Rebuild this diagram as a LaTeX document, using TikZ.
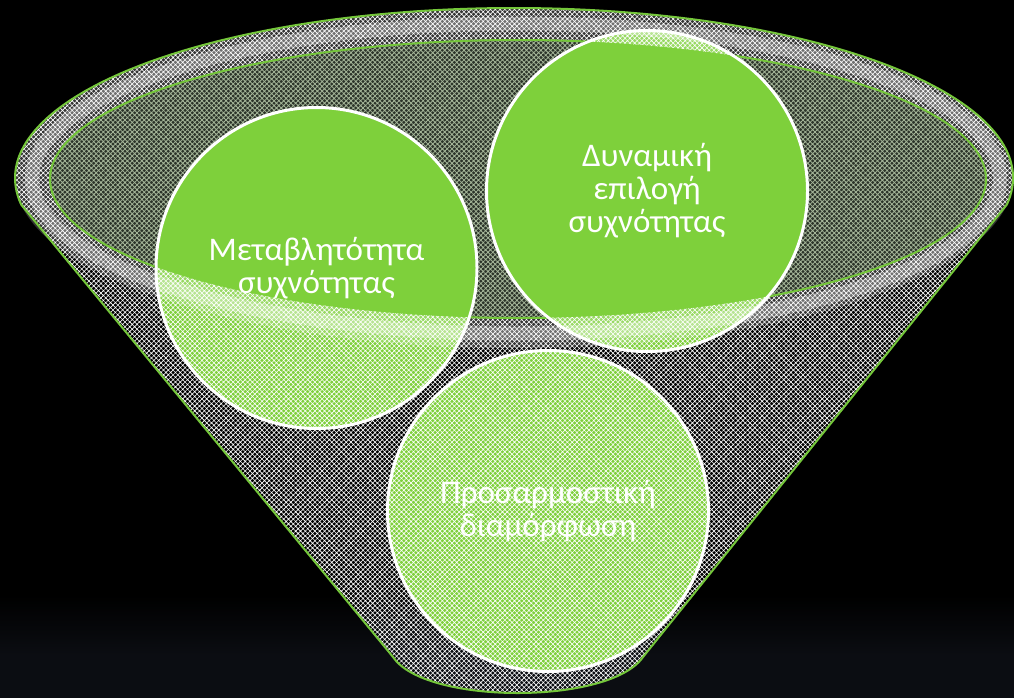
\documentclass[tikz,border=0pt]{standalone}
\usepackage{fontspec}
\setmainfont{Carlito}
\usetikzlibrary{patterns.meta,calc}

\definecolor{leaf}{HTML}{7ED03B}
\definecolor{edgegreen}{HTML}{74C63A}
\definecolor{innerbase}{HTML}{2B3329}
\definecolor{innermesh}{HTML}{A5B699}
\definecolor{floor}{HTML}{0B0D12}

\begin{document}
\begin{tikzpicture}[x=1pt,y=-1pt,
  bubble/.style={circle, minimum size=321pt, inner sep=0pt, fill=leaf,
    draw=white, line width=3pt},
  caption/.style={text=white, align=center, inner sep=0pt,
    font=\fontsize{33}{33}\selectfont},
  outline/.style={draw=edgegreen, line width=2pt},
  mesh/.style={pattern={Hatch[angle=45,distance=3.4pt,line width=0.6pt]}, pattern color=#1}]

\useasboundingbox (0,0) rectangle (1014,697);

% backdrop
\fill[black] (0,0) rectangle (1014,697);
\shade[top color=black, bottom color=floor] (0,595) rectangle (1014,655);
\fill[floor] (0,655) rectangle (1014,697.5);

% key points of the funnel
\coordinate (oc) at (514,178);
\coordinate (ic) at (518,179);
\coordinate (L) at ($(oc)+(189:499pt and 170pt)$);
\coordinate (R) at ($(oc)+(-9:499pt and 170pt)$);
\coordinate (BL) at (393,657);
\coordinate (BR) at (643,657);

% mouth of the funnel
\fill[innerbase] (ic) ellipse [x radius=468pt, y radius=139pt];
\fill[pattern={Hatch[angle=45,distance=3.4pt,line width=0.8pt]}, pattern color=innermesh]
  (ic) ellipse [x radius=468pt, y radius=139pt];

% the three bubbles
\node[bubble] (c1) at (316.5,268) {};
\node[bubble] (c2) at (647,191) {};
\node[bubble] (c3) at (548,511) {};
\node[caption] (t1) at (c1.center) {Μεταβλητότητα\\συχνότητας};
\node[caption] (t2) at (c2.center) {Δυναμική\\επιλογή\\συχνότητας};

% translucent body of the funnel, mouth left open
\fill[mesh=white, even odd rule]
  (L) -- (BL) .. controls (425,705) and (610,705) .. (BR) -- (R)
  arc[start angle=-9, end angle=189, x radius=499pt, y radius=170pt] -- cycle
  (ic) ellipse [x radius=468pt, y radius=139pt];

% brighter rim band
\fill[white, opacity=0.2, even odd rule]
  (oc) ellipse [x radius=499pt, y radius=170pt]
  (ic) ellipse [x radius=468pt, y radius=139pt];
\draw[white, opacity=0.3, line width=14pt]
  (516,178.5) ellipse [x radius=484pt, y radius=155pt];

% mouth outline, kept behind the bubbles
\begin{scope}[even odd rule]
  \clip (0,0) rectangle (1014,697)
    (c1.center) circle [radius=162pt]
    (c2.center) circle [radius=162pt]
    (c3.center) circle [radius=162pt];
  \draw[outline] (ic) ellipse [x radius=468pt, y radius=139pt];
\end{scope}

% outer outline
\draw[outline, line join=round]
  (L) -- (BL) .. controls (425,705) and (610,705) .. (BR) -- (R)
  arc[start angle=-9, end angle=189, x radius=499pt, y radius=170pt] -- cycle;

% lower bubble caption stays crisp above the mesh
\node[caption] (t3) at (c3.center) {Προσαρμοστική\\διαμόρφωση};

\end{tikzpicture}
\end{document}
